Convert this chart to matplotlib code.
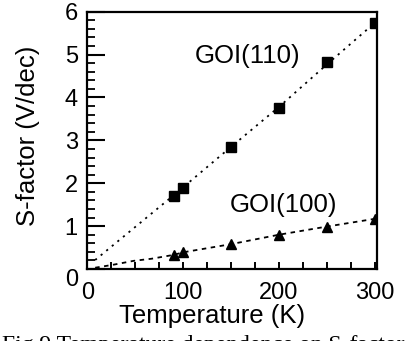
import numpy as np
import matplotlib
matplotlib.use('Agg')
import matplotlib.pyplot as plt
from matplotlib.ticker import MultipleLocator

plt.rcParams['font.family'] = ['Liberation Sans', 'DejaVu Sans']

# 测量数据
temp = [90, 100, 150, 200, 250, 300]
s_110 = [1.70, 1.90, 2.84, 3.75, 4.83, 5.73]
s_100 = [0.33, 0.39, 0.58, 0.79, 0.99, 1.16]

# 拟合曲线
fit_t_110 = [8, 90, 150, 200, 250, 300]
fit_110 = [0.21, 1.72, 2.85, 3.78, 4.77, 5.74]
fit_t_100 = [8, 27, 48, 67, 90, 100, 150, 200, 250, 300]
fit_100 = [0.03, 0.10, 0.19, 0.24, 0.33, 0.39, 0.58, 0.80, 0.99, 1.17]

x_ticks = [0, 100, 200, 300]
y_ticks = [0, 1, 2, 3, 4, 5, 6]

fig = plt.figure(figsize=(4.06, 3.41), dpi=100)
ax = fig.add_axes([0.2155, 0.2111, 0.7123, 0.7546])

ax.plot(fit_t_110, fit_110, color='black', lw=1.3, linestyle=(0, (1.2, 2.8)))
ax.plot(fit_t_100, fit_100, color='black', lw=1.3, linestyle=(0, (2.5, 2.5)))
ax.plot(temp, s_110, 's', color='black', markersize=6.5)
ax.plot(temp, s_100, '^', color='black', markersize=6.5)

ax.text(167, 4.80, 'GOI(110)', fontsize=18.5, ha='center', va='baseline')
ax.text(205, 1.34, 'GOI(100)', fontsize=18.5, ha='center', va='baseline')

ax.set_xlim(0, 302)
ax.set_ylim(0, 6)
ax.set_xticks(x_ticks)
ax.set_yticks(y_ticks)
ax.xaxis.set_minor_locator(MultipleLocator(25))
ax.yaxis.set_minor_locator(MultipleLocator(0.2))

ax.tick_params(axis='y', which='major', direction='in', length=13, width=1.5,
               labelsize=17, pad=7, right=False)
ax.tick_params(axis='y', which='minor', direction='in', length=6, width=1.3, right=False)
ax.tick_params(axis='x', which='both', direction='in', length=5, width=1.4,
               labelsize=17, pad=9, top=False)

for sp in ax.spines.values():
    sp.set_linewidth(1.6)

ax.get_yticklabels()[0].set_verticalalignment('top')

ax.set_xlabel('Temperature (K)', fontsize=18.5)
ax.set_ylabel('S-factor (V/dec)', fontsize=18.5)
ax.xaxis.set_label_coords(0.43, -0.135)
ax.yaxis.set_label_coords(-0.164, 0.517)

# 图注（原图底部被裁切）
fig.text(0.005, 1 - 335 / 341, 'Fig.9 Temperature dependence on S-factor',
         fontsize=17, family='Liberation Serif', va='top', ha='left')

fig.savefig('out.png', dpi=100)
